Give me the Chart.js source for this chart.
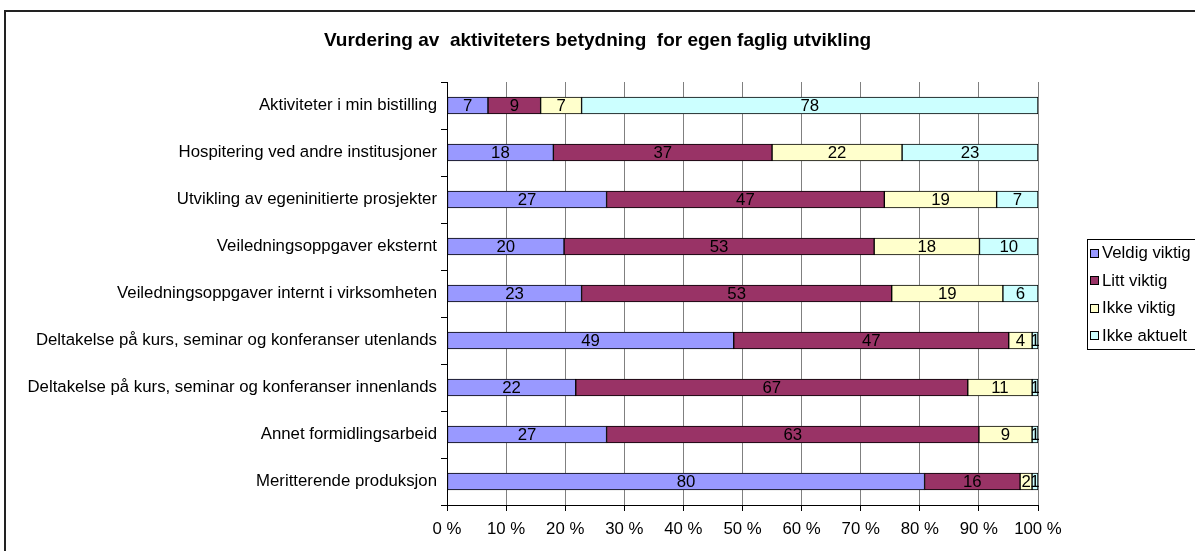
<!DOCTYPE html>
<html>
<head>
<meta charset="utf-8">
<script src="https://cdn.jsdelivr.net/npm/chart.js@4"></script>
<style>
  html, body { margin: 0; padding: 0; background: #fff; }
  #wrap { width: 1195px; height: 551px; position: relative; }
</style>
</head>
<body>
<div id="wrap"><canvas id="chart" width="1195" height="551"></canvas></div>
<script>
const categories = [
  'Aktiviteter i min bistilling',
  'Hospitering ved andre institusjoner',
  'Utvikling av egeninitierte prosjekter',
  'Veiledningsoppgaver eksternt',
  'Veiledningsoppgaver internt i virksomheten',
  'Deltakelse på kurs, seminar og konferanser utenlands',
  'Deltakelse på kurs, seminar og konferanser innenlands',
  'Annet formidlingsarbeid',
  'Meritterende produksjon'
];
const seriesNames = ['Veldig viktig', 'Litt viktig', 'Ikke viktig', 'Ikke aktuelt'];
const veldigViktig = [7, 18, 27, 20, 23, 49, 22, 27, 80];
const littViktig   = [9, 37, 47, 53, 53, 47, 67, 63, 16];
const ikkeViktig   = [7, 22, 19, 18, 19, 4, 11, 9, 2];
const ikkeAktuelt  = [78, 23, 7, 10, 6, 1, 1, 1, 1];
const xTicks = [0, 10, 20, 30, 40, 50, 60, 70, 80, 90, 100];

const FONT = "'Liberation Sans', Arial, sans-serif";
const TXT = 16.8;
const colors = ['#9999FF', '#993366', '#FFFFCC', '#CCFFFF'];
const series = [veldigViktig, littViktig, ikkeViktig, ikkeAktuelt];

// 100 % stacked: each row normalised by its own total
const totals = categories.map((c, i) => series.reduce((s, arr) => s + arr[i], 0));

const datasets = series.map((arr, k) => ({
  label: seriesNames[k],
  data: arr.map((v, i) => v / totals[i] * 100),
  raw: arr,
  backgroundColor: colors[k],
  borderColor: '#000',
  borderWidth: 1,
  borderSkipped: false,
  barThickness: 17
}));

const plotLeft = 447, plotRight = 1038, plotTop = 82, plotBottom = 505;

const decor = {
  id: 'decor',
  beforeDraw(chart) {
    const c = chart.ctx;
    c.save();
    c.fillStyle = '#fff';
    c.fillRect(0, 0, chart.width, chart.height);
    c.strokeStyle = '#222';
    c.lineWidth = 2;
    c.strokeRect(5, 11, 1400, 800);
    c.restore();
  },
  afterDatasetsDraw(chart) {
    const c = chart.ctx;
    c.save();
    c.font = TXT + 'px ' + FONT;
    c.fillStyle = '#000';
    c.textAlign = 'center';
    c.textBaseline = 'middle';
    chart.data.datasets.forEach((ds, k) => {
      chart.getDatasetMeta(k).data.forEach((bar, i) => {
        const p = bar.getCenterPoint();
        c.fillText(String(ds.raw[i]), p.x, p.y + 1);
      });
    });
    c.restore();
  },
  afterDraw(chart) {
    const c = chart.ctx;
    c.save();
    // title
    c.font = 'bold 19px ' + FONT;
    c.fillStyle = '#000';
    c.textAlign = 'center';
    c.textBaseline = 'middle';
    c.fillText('Vurdering av  aktiviteters betydning  for egen faglig utvikling', chart.width / 2, 41);

    // legend
    const ca = chart.chartArea;
    const step = 27.5;
    const n = chart.data.datasets.length;
    const boxH = step * n;
    const boxTop = Math.round((ca.top + ca.bottom) / 2 - boxH / 2);
    c.strokeStyle = '#000';
    c.lineWidth = 1;
    c.strokeRect(1087.5, boxTop + 0.5, 300, boxH);
    c.font = TXT + 'px ' + FONT;
    c.textAlign = 'left';
    chart.data.datasets.forEach((ds, k) => {
      const y = boxTop + step * (k + 0.5);
      c.fillStyle = ds.backgroundColor;
      c.fillRect(1090, Math.round(y - 4), 8, 8);
      c.strokeStyle = '#000';
      c.strokeRect(1090.5, Math.round(y - 4) + 0.5, 8, 8);
      c.fillStyle = '#000';
      c.fillText(ds.label, 1102, y + 1);
    });
    c.restore();
  }
};

new Chart(document.getElementById('chart'), {
  type: 'bar',
  data: { labels: categories, datasets: datasets },
  plugins: [decor],
  options: {
    responsive: false,
    animation: false,
    indexAxis: 'y',
    layout: { padding: { left: 0, top: plotTop, right: 1195 - plotRight, bottom: 0 } },
    plugins: { legend: { display: false }, title: { display: false }, tooltip: { enabled: false } },
    scales: {
      x: {
        stacked: true,
        min: 0,
        max: 100,
        afterBuildTicks(scale) { scale.ticks = xTicks.map(v => ({ value: v })); },
        afterFit(scale) { scale.height = 551 - plotBottom; },
        ticks: {
          callback: v => v + ' %',
          color: '#000',
          font: { family: FONT, size: TXT },
          padding: 8,
          maxRotation: 0
        },
        grid: { color: '#808080', tickColor: '#000', tickLength: 6, lineWidth: 1 },
        border: { color: '#000', width: 1 }
      },
      y: {
        stacked: true,
        afterFit(scale) { scale.width = plotLeft; },
        ticks: { color: '#000', font: { family: FONT, size: TXT }, padding: 4, autoSkip: false },
        grid: { drawOnChartArea: false, offset: true, tickColor: '#000', tickLength: 6 },
        border: { color: '#000', width: 1 }
      }
    }
  }
});
</script>
</body>
</html>
